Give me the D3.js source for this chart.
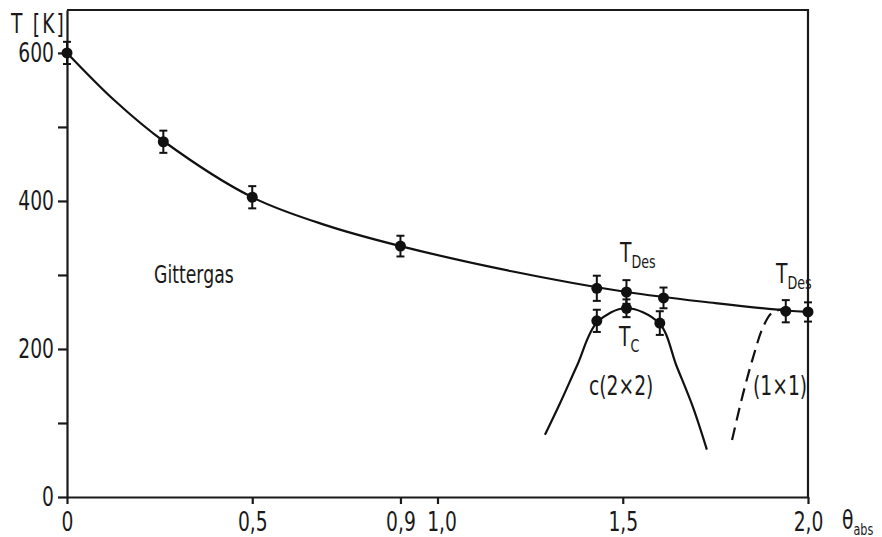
<!DOCTYPE html>
<html>
<head>
<meta charset="utf-8">
<script src="https://cdn.jsdelivr.net/npm/d3@7"></script>
<style>
    body { margin: 0; background: #fff; }
    text { font-family: "DejaVu Sans", sans-serif; fill: #1a1a1a; }
</style>
</head>
<body>
<div id="chart"></div>
<script>
// measured points: desorption temperature T_Des
const des_theta = [0, 0.26, 0.5, 0.9, 1.43, 1.51, 1.61, 1.94, 2.0];
const des_T = [600, 480, 405, 339, 282, 277, 269, 251, 250];
const des_err = [15, 15, 15, 14, 17, 16, 14, 15, 13];

// measured points: critical temperature T_C
const tc_theta = [1.43, 1.51, 1.60];
const tc_T = [238, 255, 235];
const tc_err = [15, 12, 16];

// drawn curves
const des_fit_theta = [0, 0.13, 0.26, 0.5, 0.7, 0.9, 1.2, 1.51, 1.75, 1.94, 2.0];
const des_fit_T = [600, 535, 481, 405, 367, 339, 305, 277, 262, 252, 250];
const c2x2_theta = [1.29, 1.331, 1.377, 1.431, 1.509, 1.598, 1.646, 1.689, 1.727];
const c2x2_T = [84, 127, 178, 236, 255, 235, 176, 122, 64];
const p1x1_theta = [1.795, 1.825, 1.852, 1.879, 1.903, 1.933];
const p1x1_T = [77, 140, 189, 230, 249, 254];

const x_ticks = [0, 0.5, 0.9, 1.0, 1.5, 2.0];
const y_ticks = [0, 100, 200, 300, 400, 500, 600];
const y_labels = [0, 200, 400, 600];

const width = 882, height = 537;
const margins = {left: 67, right: 808, top: 10, bottom: 497};
const font_size = 26;
const squeeze = 0.72; // narrow lettering like the original

const svg = d3.select('#chart').append('svg')
    .attr('width', width)
    .attr('height', height);

const x_scale = d3.scaleLinear().domain([0, 2]).range([margins.left, margins.right]);
const y_scale = d3.scaleLinear().domain([0, 658]).range([margins.bottom, margins.top]);

const fmt = d => d === 0 ? '0' : d3.format('.1f')(d).replace('.', ',');

// turn x/y of a text into a translate so it can be narrowed in place
function narrow(sel) {
    sel.each(function () {
        const t = d3.select(this);
        const x = +t.attr('x') || 0, y = +t.attr('y') || 0;
        t.attr('x', null).attr('y', null)
            .attr('transform', 'translate(' + x + ',' + y + ') scale(' + squeeze + ',1)');
    });
}

let x_axis = d3.axisBottom(x_scale)
    .tickValues(x_ticks)
    .tickFormat(fmt)
    .tickSize(7)
    .tickSizeOuter(0)
    .tickPadding(9);

let y_axis = d3.axisLeft(y_scale)
    .tickValues(y_ticks)
    .tickFormat(d => y_labels.includes(d) ? d : '')
    .tickSize(9)
    .tickSizeOuter(0)
    .tickPadding(4);

const gx = svg.append('g')
    .attr('transform', 'translate(0,' + margins.bottom + ')')
    .call(x_axis);
const gy = svg.append('g')
    .attr('transform', 'translate(' + margins.left + ',0)')
    .call(y_axis);

[gx, gy].forEach(g => {
    g.selectAll('path, line').attr('stroke', '#1a1a1a').attr('stroke-width', 2.2);
    g.selectAll('text').attr('font-size', font_size).attr('font-family', null).style('fill', '#1a1a1a');
});
gx.selectAll('.tick text').filter(d => d === 1.0).attr('x', 4);
narrow(gx.selectAll('.tick text'));
narrow(gy.selectAll('.tick text'));

// frame top and right
svg.append('path')
    .attr('d', 'M' + margins.left + ',' + margins.top + 'H' + margins.right + 'V' + margins.bottom)
    .attr('fill', 'none')
    .attr('stroke', '#1a1a1a')
    .attr('stroke-width', 2.2);

const line = d3.line()
    .x(d => x_scale(d[0]))
    .y(d => y_scale(d[1]))
    .curve(d3.curveCatmullRom);

function draw_curve(thetas, temps, dash) {
    svg.append('path')
        .datum(thetas.map((t, i) => [t, temps[i]]))
        .attr('d', line)
        .attr('fill', 'none')
        .attr('stroke', '#111')
        .attr('stroke-width', 2.2)
        .attr('stroke-dasharray', dash || null);
}

draw_curve(des_fit_theta, des_fit_T);
draw_curve(c2x2_theta, c2x2_T);
draw_curve(p1x1_theta, p1x1_T, '13,7');

function draw_points(thetas, temps, errs) {
    const data = thetas.map((t, i) => ({theta: t, T: temps[i], err: errs[i]}));
    const g = svg.append('g').attr('stroke', '#111').attr('stroke-width', 2);
    g.selectAll('.err')
        .data(data)
        .enter()
        .append('line')
        .attr('x1', d => x_scale(d.theta))
        .attr('x2', d => x_scale(d.theta))
        .attr('y1', d => y_scale(d.T - d.err))
        .attr('y2', d => y_scale(d.T + d.err));
    [1, -1].forEach(s => {
        g.selectAll('.cap' + s)
            .data(data)
            .enter()
            .append('line')
            .attr('x1', d => x_scale(d.theta) - 4)
            .attr('x2', d => x_scale(d.theta) + 4)
            .attr('y1', d => y_scale(d.T + s * d.err))
            .attr('y2', d => y_scale(d.T + s * d.err));
    });
    svg.append('g').selectAll('circle')
        .data(data)
        .enter()
        .append('circle')
        .attr('cx', d => x_scale(d.theta))
        .attr('cy', d => y_scale(d.T))
        .attr('r', 5.5)
        .attr('fill', '#111');
}

draw_points(des_theta, des_T, des_err);
draw_points(tc_theta, tc_T, tc_err);

// labels
function label(x, y, main, sub, size, sub_ratio) {
    const t = svg.append('text')
        .attr('x', x)
        .attr('y', y)
        .attr('font-size', size || font_size)
        .text(main);
    if (sub) {
        t.append('tspan')
            .attr('font-size', (size || font_size) * (sub_ratio || 0.68))
            .attr('dy', 6)
            .text(sub);
    }
    narrow(t);
    return t;
}

label(11, 33, 'T [K]').attr('letter-spacing', 3);
label(842, 529, 'θ', 'abs', 26, 0.6);
label(154, 283, 'Gittergas', null, 24);
label(620, 262, 'T', 'Des');
label(776, 283, 'T', 'Des');
label(619, 346, 'T', 'C');
label(589, 395, 'c(2×2)');
label(753, 395, '(1×1)');
</script>
</body>
</html>
